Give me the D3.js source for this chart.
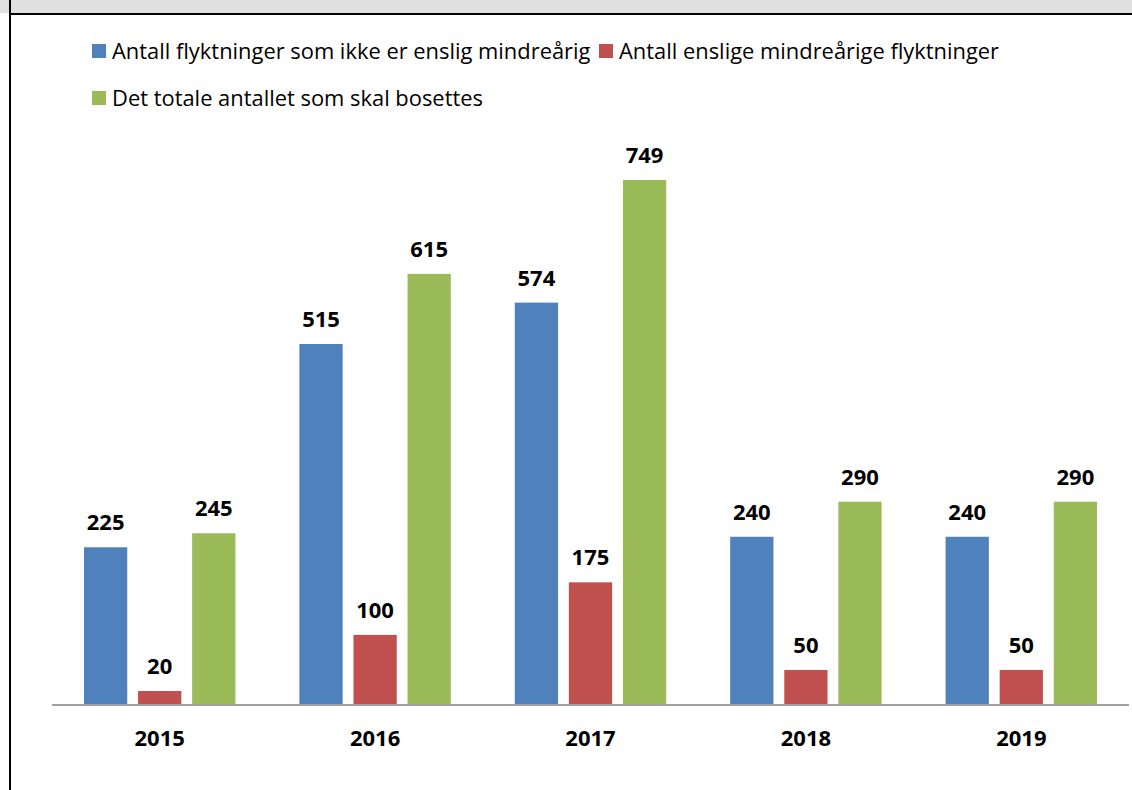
<!DOCTYPE html>
<html>
<head>
<meta charset="utf-8">
<script src="https://cdn.jsdelivr.net/npm/d3@7"></script>
<style>
  body { margin: 0; background: #fff; }
  svg { display: block; font-family: "Open Sans", "Noto Sans", sans-serif; }
</style>
</head>
<body>
<svg id="chart"></svg>
<script>
// chart data
const years = ["2015", "2016", "2017", "2018", "2019"];
const seriesNames = [
  "Antall flyktninger som ikke er enslig mindreårig",
  "Antall enslige mindreårige flyktninger",
  "Det totale antallet som skal bosettes"
];
const ikkeEnslige = [225, 515, 574, 240, 240];
const ensligeMindreaarige = [20, 100, 175, 50, 50];
const totalt = [245, 615, 749, 290, 290];
const colors = ["#4f81bd", "#c0504d", "#9bbb59"];

const W = 1132, H = 790;
const svg = d3.select("#chart").attr("width", W).attr("height", H);

// grey band at top + frame lines
svg.append("rect").attr("x", 0).attr("y", 0).attr("width", W).attr("height", 13).attr("fill", "#e0e0e0");
svg.append("line").attr("x1", 9).attr("x2", W).attr("y1", 14).attr("y2", 14)
  .attr("stroke", "#000").attr("stroke-width", 2);
svg.append("line").attr("x1", 10).attr("x2", 10).attr("y1", 0).attr("y2", H)
  .attr("stroke", "#000").attr("stroke-width", 2);

// scales
const plotLeft = 52, plotRight = 1129, baseY = 705;
const x0 = d3.scaleBand().domain(years).range([plotLeft, plotRight]).paddingInner(0.297).paddingOuter(0.1485);
const x1 = d3.scaleBand().domain([0, 1, 2]).range([0, x0.bandwidth()]).paddingInner(0.2);
const y = d3.scaleLinear().domain([0, 800]).range([baseY, baseY - 800 * 0.701]);

const rows = years.map((yr, i) => ({
  year: yr,
  vals: [ikkeEnslige[i], ensligeMindreaarige[i], totalt[i]]
}));

const groups = svg.append("g").selectAll("g")
  .data(rows).enter().append("g")
  .attr("transform", d => `translate(${x0(d.year)},0)`);

groups.selectAll("rect")
  .data(d => d.vals.map((v, k) => ({ v, k })))
  .enter().append("rect")
  .attr("x", d => x1(d.k))
  .attr("y", d => y(d.v))
  .attr("width", x1.bandwidth())
  .attr("height", d => y(0) - y(d.v))
  .attr("fill", d => colors[d.k]);

// value labels
groups.selectAll("text")
  .data(d => d.vals.map((v, k) => ({ v, k })))
  .enter().append("text")
  .attr("x", d => x1(d.k) + x1.bandwidth() / 2)
  .attr("y", d => y(d.v) - 17)
  .attr("text-anchor", "middle")
  .attr("font-weight", "bold")
  .attr("font-size", "22px")
  .attr("fill", "#000")
  .text(d => d.v);

// x axis (line only, no ticks)
const xAxis = d3.axisBottom(x0).tickSize(0).tickPadding(0);
const ax = svg.append("g").attr("transform", `translate(0,${baseY})`).call(xAxis);
ax.select(".domain").attr("stroke", "#a0a0a0").attr("stroke-width", 2)
  .attr("d", `M${plotLeft},0H${plotRight}`);
ax.selectAll("text")
  .attr("dy", 0).attr("y", 41)
  .attr("font-family", "'Open Sans', sans-serif")
  .attr("font-size", "22px")
  .attr("font-weight", "bold")
  .attr("fill", "#000");

// legend
const legendPos = [[92, 59], [599, 59], [92, 106]];
const leg = svg.append("g").selectAll("g")
  .data(seriesNames).enter().append("g")
  .attr("transform", (d, i) => `translate(${legendPos[i][0]},${legendPos[i][1]})`);
leg.append("rect").attr("x", 0).attr("y", -15).attr("width", 14).attr("height", 14)
  .attr("fill", (d, i) => colors[i]);
leg.append("text").attr("x", 20).attr("y", 0)
  .attr("font-size", "21.9px").attr("fill", "#000")
  .text(d => d);
</script>
</body>
</html>
